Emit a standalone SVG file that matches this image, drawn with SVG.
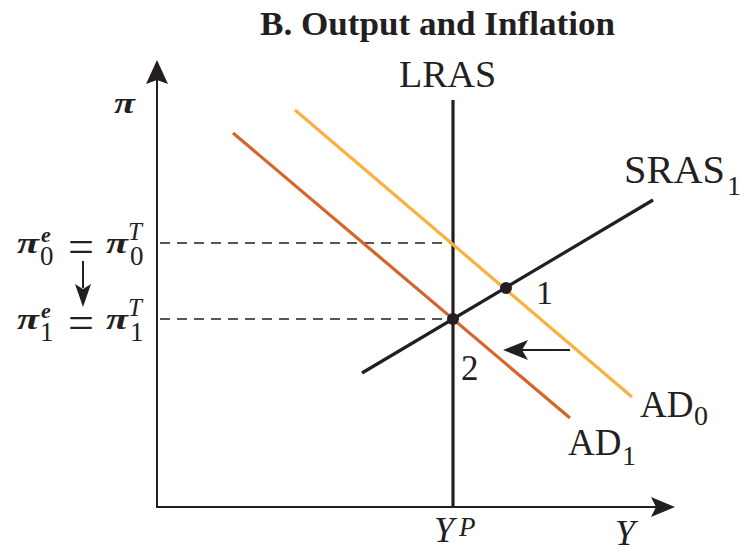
<svg xmlns="http://www.w3.org/2000/svg" width="745" height="549" viewBox="0 0 745 549">
<style>
.t{font-family:"Liberation Serif","Times New Roman",serif;fill:#231f20}
.i{font-style:italic}
.pi{font-family:"Liberation Serif","Times New Roman",serif;font-style:italic;font-weight:bold;fill:#231f20}
.ax{stroke:#231f20;stroke-width:2;fill:none}
.dash{stroke:#231f20;stroke-width:1.5;stroke-dasharray:10,7;fill:none}
.crv{stroke-width:3.2;fill:none;stroke-linecap:butt}
</style>
<rect width="745" height="549" fill="#fff"/>
<text class="t" x="260" y="35" font-size="34" font-weight="bold" textLength="355" lengthAdjust="spacingAndGlyphs">B. Output and Inflation</text>
<g id="connectors">
<line class="ax" x1="157" y1="507" x2="157" y2="80"/>
<polygon points="157,60 146,84 157,80 168,84" fill="#231f20"/>
<line class="ax" x1="156" y1="507" x2="656" y2="507"/>
<polygon points="675,507 651,497 656,507 651,517" fill="#231f20"/>
<line class="dash" x1="160" y1="243" x2="453" y2="243"/>
<line class="dash" x1="160" y1="319" x2="453" y2="319"/>
<line class="ax" x1="83" y1="261" x2="83" y2="288"/>
<polygon points="83,307 75,284 83,289 91,284" fill="#231f20"/>
<line class="ax" x1="570" y1="350" x2="522" y2="350"/>
<polygon points="503,350 528,340 522,350 528,360" fill="#231f20"/>
</g>
<g id="LRAS"><line class="crv" stroke="#231f20" x1="453" y1="100" x2="453" y2="507"/>
<text class="t" x="399" y="87" font-size="38">LRAS</text></g>
<g id="AD0"><line class="crv" stroke="#fbb040" x1="295" y1="110" x2="632" y2="397"/>
<text class="t" x="640" y="417" font-size="37">AD<tspan x="694" y="425" font-size="28">0</tspan></text></g>
<g id="AD1"><line class="crv" stroke="#d5652b" x1="233" y1="133" x2="570" y2="418"/>
<text class="t" x="568" y="455" font-size="37">AD<tspan x="622" y="465" font-size="28">1</tspan></text></g>
<g id="SRAS1"><line class="crv" stroke="#231f20" x1="362" y1="373" x2="653" y2="200"/>
<text class="t" x="624" y="183" font-size="39" textLength="101" lengthAdjust="spacingAndGlyphs">SRAS</text>
<text class="t" x="727" y="195" font-size="28">1</text></g>
<g id="point1"><circle cx="506" cy="288" r="6" fill="#231f20"/>
<text class="t" x="536" y="304" font-size="34">1</text></g>
<g id="point2"><circle cx="453" cy="319" r="6" fill="#231f20"/>
<text class="t" x="461" y="380" font-size="35">2</text></g>
<g id="labels">
<text class="pi" x="114" y="113" font-size="30" textLength="21" lengthAdjust="spacingAndGlyphs">π</text>
<text class="t i" x="434" y="542" font-size="36">Y</text>
<text class="t i" x="459" y="536" font-size="27">P</text>
<text class="t i" x="615" y="545" font-size="36">Y</text>
<text class="pi" x="17" y="253" font-size="30" textLength="22" lengthAdjust="spacingAndGlyphs">π</text>
<text class="pi" x="41" y="242" font-size="22" font-weight="bold">e</text>
<text class="t" x="40" y="265" font-size="27">0</text>
<text class="t" x="68" y="262" font-size="46">=</text>
<text class="pi" x="106" y="253" font-size="30" textLength="22" lengthAdjust="spacingAndGlyphs">π</text>
<text class="t i" x="128" y="240" font-size="25">T</text>
<text class="t" x="130" y="265" font-size="27">0</text>
<text class="pi" x="17" y="329" font-size="30" textLength="22" lengthAdjust="spacingAndGlyphs">π</text>
<text class="pi" x="41" y="318" font-size="22">e</text>
<text class="t" x="40" y="341" font-size="27">1</text>
<text class="t" x="68" y="338" font-size="46">=</text>
<text class="pi" x="106" y="329" font-size="30" textLength="22" lengthAdjust="spacingAndGlyphs">π</text>
<text class="t i" x="128" y="316" font-size="25">T</text>
<text class="t" x="130" y="341" font-size="27">1</text>
</g>
</svg>
